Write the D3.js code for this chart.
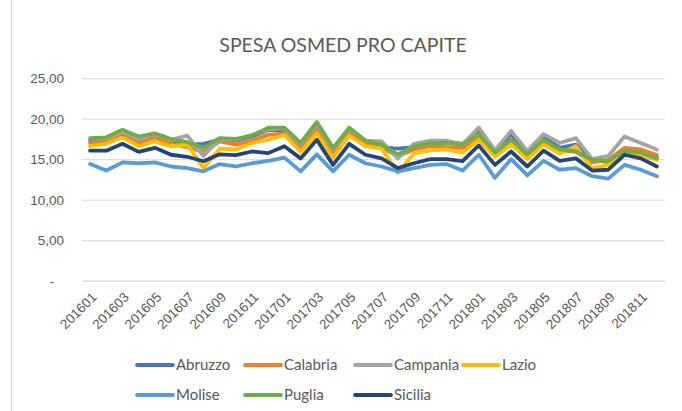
<!DOCTYPE html>
<html>
<head>
<meta charset="utf-8">
<script src="https://cdn.jsdelivr.net/npm/d3@7"></script>
<style>
  body { margin: 0; background: #fff; }
  svg { display: block; font-family: Lato, 'Liberation Sans', sans-serif; }
</style>
</head>
<body>
<svg id="chart" width="682" height="411"></svg>
<script>
// months 201601 .. 201812
const months = [];
[2016, 2017, 2018].forEach(y => {
  for (let m = 1; m <= 12; m++) months.push(`${y}${String(m).padStart(2, '0')}`);
});

const yTicks = [0, 5, 10, 15, 20, 25];

const abruzzo = [17.3, 17.4, 18.1, 17.2, 17.9, 17.0, 16.8, 16.9, 17.4, 17.3, 17.8, 18.6,
  18.6, 16.6, 19.2, 16.0, 18.6, 17.0, 16.5, 16.3, 16.5, 17.1, 17.2, 16.9,
  18.4, 15.9, 18.1, 15.6, 17.7, 16.4, 16.8, 15.0, 14.6, 16.0, 15.8, 15.2];
const calabria = [17.0, 17.2, 18.3, 17.0, 17.7, 16.9, 16.5, 15.9, 17.2, 16.8, 17.3, 18.0,
  18.2, 16.3, 18.8, 15.8, 18.3, 16.9, 16.4, 15.4, 16.2, 16.6, 16.5, 16.4,
  17.8, 15.5, 17.2, 15.3, 17.2, 16.1, 15.9, 14.6, 14.9, 16.4, 16.2, 15.5];
const campania = [17.5, 17.6, 18.4, 17.5, 18.1, 17.4, 17.9, 15.4, 17.5, 17.4, 18.0, 18.7,
  18.8, 16.8, 19.4, 16.2, 18.8, 17.3, 17.2, 15.1, 16.9, 17.3, 17.3, 16.8,
  18.9, 16.1, 18.5, 16.0, 18.1, 17.0, 17.6, 15.0, 15.4, 17.8, 17.0, 16.2];
const lazio = [16.6, 16.9, 17.7, 16.6, 17.2, 16.6, 16.8, 13.9, 16.3, 16.2, 17.0, 17.4,
  18.0, 15.9, 18.2, 15.2, 17.9, 16.6, 16.3, 13.3, 15.7, 16.1, 16.2, 15.8,
  17.4, 15.3, 16.8, 15.0, 16.8, 15.7, 16.6, 13.9, 14.3, 15.9, 15.5, 14.9];
const molise = [14.4, 13.6, 14.6, 14.5, 14.6, 14.1, 13.9, 13.5, 14.4, 14.1, 14.5, 14.8,
  15.2, 13.5, 15.6, 13.5, 15.55, 14.5, 14.1, 13.5, 13.9, 14.3, 14.4, 13.6,
  15.55, 12.7, 15.0, 13.0, 14.8, 13.7, 13.9, 12.9, 12.6, 14.3, 13.7, 12.9];
const puglia = [17.6, 17.7, 18.65, 17.8, 18.2, 17.5, 17.1, 16.4, 17.6, 17.5, 17.9, 18.9,
  18.9, 17.0, 19.6, 16.4, 18.9, 17.3, 16.8, 15.6, 16.6, 17.0, 17.0, 16.8,
  18.1, 15.8, 17.4, 15.6, 17.4, 16.2, 16.0, 14.9, 14.8, 16.0, 15.8, 15.1];
const sicilia = [16.05, 16.05, 16.9, 15.9, 16.4, 15.55, 15.3, 14.75, 15.6, 15.5, 15.95, 15.75,
  16.6, 15.1, 17.4, 14.3, 16.9, 15.55, 15.1, 13.9, 14.5, 15.0, 15.0, 14.75,
  16.7, 14.3, 15.95, 14.1, 16.05, 14.8, 15.1, 13.6, 13.7, 15.55, 15.1, 14.1];

const seriesNames = ['Abruzzo', 'Calabria', 'Campania', 'Lazio', 'Molise', 'Puglia', 'Sicilia'];
const seriesValues = [abruzzo, calabria, campania, lazio, molise, puglia, sicilia];
const seriesColors = ['#4472C4', '#ED7D31', '#A5A5A5', '#FFC000', '#5B9BD5', '#70AD47', '#264478'];

const cfg = {
  left: 82,
  right: 665,
  top: 78.2,
  bottom: 280.7,
  textColor: '#595959',
  gridColor: '#d9d9d9',
  lineWidth: 3.8,
};

const svg = d3.select('#chart');

// chart frame (left edge only visible)
svg.append('line')
  .attr('x1', 11.5)
  .attr('x2', 11.5)
  .attr('y1', 0)
  .attr('y2', 411)
  .attr('stroke', cfg.gridColor);

// title
svg.append('text')
  .text('SPESA OSMED PRO CAPITE')
  .attr('x', 343)
  .attr('y', 52)
  .attr('text-anchor', 'middle')
  .style('font-size', '19.5px')
  .style('fill', cfg.textColor);

const x = d3.scaleBand().domain(months).range([cfg.left, cfg.right]);
const y = d3.scaleLinear().domain([0, 25]).range([cfg.bottom, cfg.top]);

// gridlines + y labels
const yAxis = d3.axisLeft(y)
  .tickValues(yTicks)
  .tickSize(-(cfg.right - cfg.left))
  .tickPadding(18)
  .tickFormat(d => (d === 0 ? '-' : d3.format('.2f')(d).replace('.', ',')));

const yg = svg.append('g')
  .attr('transform', `translate(${cfg.left},0)`)
  .call(yAxis);
yg.select('.domain').remove();
yg.selectAll('.tick line').attr('stroke', cfg.gridColor).attr('stroke-width', 1);
yg.selectAll('.tick text')
  .style('font-size', '13.5px')
  .style('fill', cfg.textColor)
  .attr('dx', d => (d === 0 ? -10 : 0));

// x labels, every second month
const xg = svg.append('g')
  .attr('transform', `translate(0,${cfg.bottom})`)
  .call(d3.axisBottom(x).tickValues(months.filter((d, i) => i % 2 === 0)).tickSize(0));
xg.select('.domain').attr('stroke', cfg.gridColor);
xg.selectAll('.tick text')
  .style('font-size', '13.5px')
  .style('fill', cfg.textColor)
  .attr('text-anchor', 'end')
  .attr('transform', 'translate(4,14) rotate(-45)')
  .attr('dy', '0.35em')
  .attr('y', 0);

// lines
const line = d3.line()
  .x((d, i) => x(months[i]) + x.bandwidth() / 2)
  .y(d => y(d));

svg.append('g')
  .selectAll('path')
  .data(seriesValues)
  .enter()
  .append('path')
  .attr('d', d => line(d))
  .attr('fill', 'none')
  .attr('stroke', (d, i) => seriesColors[i])
  .attr('stroke-width', cfg.lineWidth)
  .attr('stroke-linejoin', 'round')
  .attr('stroke-linecap', 'round');

// legend
const legendPos = [
  [137, 365], [245, 365], [355, 365], [463, 365],
  [137, 395], [245, 395], [355, 395],
];
const legend = svg.append('g')
  .selectAll('g')
  .data(seriesNames)
  .enter()
  .append('g')
  .attr('transform', (d, i) => `translate(${legendPos[i][0]},${legendPos[i][1]})`);

legend.append('line')
  .attr('x2', 36)
  .attr('stroke', (d, i) => seriesColors[i])
  .attr('stroke-width', 3.8)
  .attr('stroke-linecap', 'round');

legend.append('text')
  .text(d => d)
  .attr('x', 39)
  .attr('dy', '0.35em')
  .style('font-size', '15px')
  .style('fill', cfg.textColor);
</script>
</body>
</html>
